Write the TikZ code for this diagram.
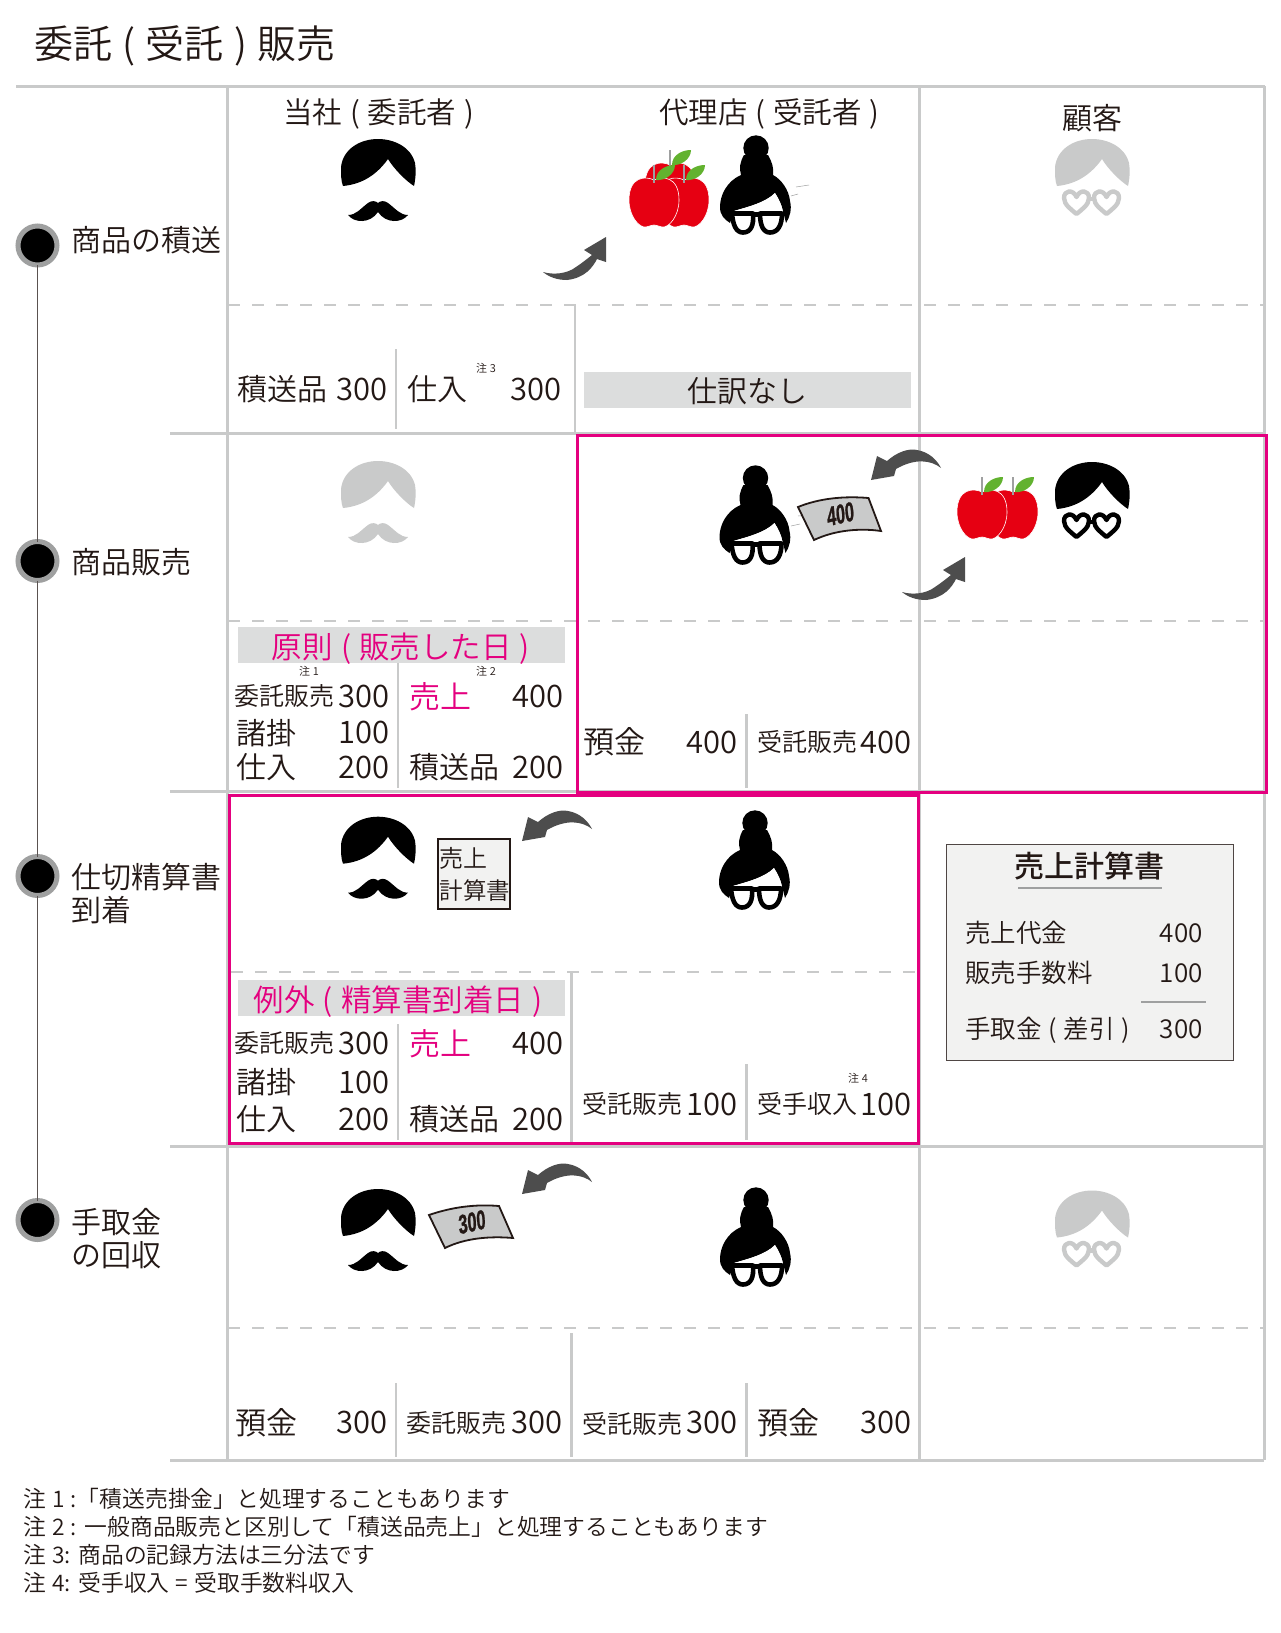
\documentclass[tikz,border=0pt]{standalone}
\usepackage{fontspec}
\IfFontExistsTF{Noto Sans CJK JP DemiLight}{\setmainfont{Noto Sans CJK JP DemiLight}[BoldFont={Noto Sans CJK JP Medium},WordSpace=1.2]}{\setmainfont{Noto Sans CJK JP Light}[BoldFont={Noto Sans CJK JP Medium},WordSpace=1.2]}
\newfontfamily\moneyfont[BoldFeatures={FakeBold=1.4}]{Liberation Sans}
\definecolor{ink}{HTML}{231815}
\definecolor{rulegrey}{HTML}{C9CACA}
\definecolor{bandgrey}{HTML}{DCDDDD}
\definecolor{pinkline}{HTML}{E4007F}
\definecolor{arrowgrey}{HTML}{4D4D4D}
\definecolor{paper}{HTML}{F2F2F1}
\definecolor{ringgrey}{HTML}{9FA0A0}
\definecolor{applered}{HTML}{E60012}
\definecolor{leafgreen}{HTML}{62B22F}
\tikzset{
  labl/.style={font=\fontsize{#1}{#1}\selectfont,anchor=base west,inner sep=0pt,text=ink},
  labr/.style={font=\fontsize{#1}{#1}\selectfont,anchor=base east,inner sep=0pt,text=ink},
  labc/.style={font=\fontsize{#1}{#1}\selectfont,anchor=base,inner sep=0pt,text=ink},
  gridline/.style={draw=rulegrey,line width=3pt},
  subline/.style={draw=rulegrey,line width=2.6pt},
  dashline/.style={draw=rulegrey,line width=2.2pt,dash pattern=on 12pt off 12pt},
  pinkbox/.style={draw=pinkline,line width=3pt},
  band/.style={fill=bandgrey},
  stepdot/.style={circle,fill=black,draw=ringgrey,line width=5pt,minimum size=39pt,inner sep=0pt,outer sep=0pt},
  timeline/.style={draw=ink!75,line width=1pt},
  wisp/.style={draw=ringgrey,line width=.5pt},
  hair/.pic={\fill[#1] (-35,47) .. controls (-14,45) and (0,34) .. (10,20) .. controls (16,30) and (28,42) .. (36,47) .. controls (38,38) and (38,30) .. (37,24) .. controls (33,8) and (16,0) .. (0,0) .. controls (-18,0) and (-35,10) .. (-37,28) .. controls (-37,36) and (-37,42) .. (-35,47) -- cycle;},
  man/.pic={
    \pic at (0,0) {hair=#1};
    \fill[#1] (-30,76) .. controls (-22,76) and (-18,70) .. (-10,64) .. controls (-6,61) and (-2,62) .. (0,64) .. controls (2,62) and (6,61) .. (10,64) .. controls (18,70) and (22,76) .. (30,76) .. controls (24,84) and (8,85) .. (0,73) .. controls (-8,85) and (-24,84) .. (-30,76) -- cycle;},
  client/.pic={
    \pic at (0,0) {hair=#1};
    \begin{scope}[draw=#1,line width=4.4pt,fill=white,line join=round]
      \draw (-15.5,58) .. controls (-12,50) and (-3,51) .. (-3,59) .. controls (-3,66) and (-11,71) .. (-15.5,75) .. controls (-20,71) and (-28,66) .. (-28,59) .. controls (-28,51) and (-19,50) .. (-15.5,58) -- cycle;
      \draw (14.5,58) .. controls (18,50) and (27,51) .. (27,59) .. controls (27,66) and (19,71) .. (14.5,75) .. controls (10,71) and (2,66) .. (2,59) .. controls (2,51) and (11,50) .. (14.5,58) -- cycle;
      \draw (-3,60) -- (2,60);
    \end{scope}},
  lady/.pic={
    \fill[black] (-1,13) circle[radius=12.7];
    \fill[black] (-13,20) -- (11,20) .. controls (15,27) and (17,33) .. (16,40) .. controls (24,44) and (32,55) .. (33,66) .. controls (35,74) and (33,82) .. (29,88) -- (26,76) .. controls (25,70) and (22,64) .. (18,58) .. controls (8,68) and (-10,72) .. (-23,76) -- (-27,88) .. controls (-33,84) and (-37,80) .. (-37,72) .. controls (-37,60) and (-30,46) .. (-16,40) .. controls (-18,33) and (-17,27) .. (-13,20) -- cycle;
    \fill[white] (-23,76) .. controls (-10,72) and (8,68) .. (18,58) .. controls (22,64) and (25,72) .. (26,78) -- (-24,80) -- cycle;
    \begin{scope}[draw=black,line width=4.6pt,fill=white,line join=round]
      \draw (-25,78.5) -- (-4,78.5) .. controls (-3,90) and (-6,97.5) .. (-14,97.5) .. controls (-21,97.5) and (-24,90) .. (-25,78.5) -- cycle;
      \draw (3,78.5) -- (25,78.5) .. controls (25,90) and (21,97.5) .. (13,97.5) .. controls (6,97.5) and (3,90) .. (3,78.5) -- cycle;
      \draw (-4,79.5) -- (3,79.5);
    \end{scope}},
  apple/.pic={
    \fill[applered,draw=white,line width=.6pt] (0,2) .. controls (-8,-2) and (-25,-2) .. (-25,22) .. controls (-25,38) and (-15,50) .. (-8,49) .. controls (-4,48) and (-2,47) .. (0,47) .. controls (2,47) and (4,48) .. (8,49) .. controls (15,50) and (25,38) .. (25,22) .. controls (25,-2) and (8,-2) .. (0,2) -- cycle;
    \draw[ringgrey,line width=2pt] (0,-13) -- (0,5);
    \fill[leafgreen] (2,2) .. controls (2,-8) and (12,-13) .. (21,-13) .. controls (21,-4) and (11,3) .. (2,2) -- cycle;},
  swoopup/.pic={\fill[arrowgrey] (0,0) .. controls (10,3) and (24,2) .. (33,-5) .. controls (39,-9) and (44,-13) .. (49,-17) -- (41,-22) -- (63,-35) -- (63,-10) -- (54,-13) .. controls (50,-5) and (42,6) .. (24,8) .. controls (14,8) and (6,5) .. (0,0) -- cycle;},
  swoopback/.pic={\fill[arrowgrey] (0,0) -- (6,-24) -- (16,-19) .. controls (26,-28) and (38,-32) .. (46,-30) .. controls (58,-28) and (66,-20) .. (70,-12) .. controls (60,-20) and (44,-22) .. (25,-11) -- (23,-4) -- cycle;},
}
\begin{document}
\begin{tikzpicture}[x=1pt,y=-1pt]
\useasboundingbox (0,0) rectangle (1280,1633);
\fill[white] (0,0) rectangle (1280,1633);
% grid
\path[gridline] (16,86) -- (1265,86);
\path[gridline] (170,433) -- (1264,433);
\path[gridline] (170,791) -- (1264,791);
\path[gridline] (170,1146) -- (1264,1146);
\path[gridline] (170,1460) -- (1264,1460);
\path[gridline] (227,86) -- (227,1460);
\path[gridline] (919.5,86) -- (919.5,1460);
\path[gridline] (1264.5,86) -- (1264.5,1460);
\path[dashline] (228,305) -- (1264,305);
\path[dashline] (228,621) -- (1264,621);
\path[dashline] (231,972) -- (918,972);
\path[dashline] (228,1328) -- (1264,1328);
% sub lines
\path[subline] (575,305) -- (575,433);
\path[subline] (396,349) -- (396,429);
\path[subline] (398,663) -- (398,788);
\path[subline] (746.5,714) -- (746.5,788);
\path[subline] (398,1024) -- (398,1140);
\path[subline] (571.5,972) -- (571.5,1142);
\path[subline] (746.5,1064) -- (746.5,1140);
\path[subline] (396,1383) -- (396,1457);
\path[subline] (571.5,1333) -- (571.5,1457);
\path[subline] (746.5,1383) -- (746.5,1457);
% pink boxes
\path[pinkbox] (577,435) rectangle (1266,792);
\path[pinkbox] (229,795) rectangle (918,1143);
% bands
\path[band] (584,372) rectangle (911,408);
\path[band] (238,627) rectangle (565,663);
\path[band] (238,980) rectangle (565,1016);
% timeline
\node[stepdot] (s1) at (37.5,245.5) {};
\node[stepdot] (s2) at (37.5,561) {};
\node[stepdot] (s3) at (37.5,876) {};
\node[stepdot] (s4) at (37.5,1220) {};
\path[timeline] (s1) -- (s2);
\path[timeline] (s2) -- (s3);
\path[timeline] (s3) -- (s4);
% title and headers
\node[labl=39] (title) at (34,58) {委託 ( 受託 ) 販売};
\node[labl=29.5] (h1) at (283,123.5) {当社 ( 委託者 )};
\node[labl=29.5] (h2) at (659,123.5) {代理店 ( 受託者 )};
\node[labc=30] (h3) at (1092,129.5) {顧客};
% step labels
\node[labl=30] (l1) at (71,251.5) {商品の積送};
\node[labl=30] (l2) at (71,573.5) {商品販売};
\node[labl=30] (l3a) at (71,888) {仕切精算書};
\node[labl=30] (l3b) at (71,921.5) {到着};
\node[labl=30] (l4a) at (71,1233) {手取金};
\node[labl=30] (l4b) at (71,1266) {の回収};
% row 1 figures
\pic at (378,139) {man=black};
\pic at (670,163) {apple};
\pic at (684,178) {apple};
\pic at (654,178) {apple};
\pic at (757,135) {lady};
\path[wisp] (796,187) -- (809,185) (791,196) -- (798,194);
\pic at (1092,139) {client=rulegrey};
\pic at (543,272) {swoopup};
% row 1 entries
\node[labl=30] (a1) at (237,400.5) {積送品};
\node[labr=31] (a2) at (388,400.5) {300};
\node[labl=30] (a3) at (407,400.5) {仕入};
\node[labc=11] (a4) at (486,372.5) {注 3};
\node[labr=31] (a5) at (562,400.5) {300};
\node[labc=30] (a6) at (747,402) {仕訳なし};
% row 2 figures
\pic at (378,461) {man=rulegrey};
\pic at (756.5,465) {lady};
\path[wisp] (798,516) -- (809,515) (791,526) -- (800,524);
\path[fill=rulegrey,draw=ink,line width=1.8pt] (798,507) .. controls (820,498) and (845,496) .. (868.5,498) -- (881,531) .. controls (860,528) and (835,530) .. (814,540) -- cycle;
\node[font=\moneyfont\bfseries\fontsize{27}{27}\selectfont,xscale=.6,rotate=8,inner sep=0pt,text=ink] (m1) at (840.5,514) {400};
\pic at (1013,490) {apple};
\pic at (982,490) {apple};
\pic at (1092,462) {client=black};
\pic at (871,480) {swoopback};
\pic at (902,592) {swoopup};
% row 2 entries
\node[labc=30.5,text=pinkline] (b0) at (401,658) {原則 ( 販売した日 )};
\node[labc=11] (b1) at (309,675) {注 1};
\node[labc=11] (b2) at (486,675) {注 2};
\node[labl=25] (b3) at (234.5,705) {委託販売};
\node[labr=31] (b4) at (390,707) {300};
\node[labl=31] (b5) at (409,708) {\textcolor{pinkline}{売上}};
\node[labr=31] (b6) at (564,707) {400};
\node[labl=30] (b7) at (236,744) {諸掛};
\node[labr=31] (b8) at (390,743) {100};
\node[labl=30] (b9) at (236,778) {仕入};
\node[labr=31] (b10) at (390,778) {200};
\node[labl=30] (b11) at (409,778) {積送品};
\node[labr=31] (b12) at (564,778) {200};
\node[labl=31] (b13) at (583,753) {預金};
\node[labr=31] (b14) at (738,753) {400};
\node[labl=25] (b15) at (757,751.5) {受託販売};
\node[labr=31] (b16) at (912,753) {400};
% row 3 figures
\pic at (378,816.7) {man=black};
\node[draw=ink,line width=1.5pt,fill=paper,minimum width=72pt,minimum height=70pt,inner sep=0pt] (doc) at (474,874) {};
\node[labl=24] (d1) at (439,867) {売上};
\node[labl=23.5] (d2) at (439.5,899) {計算書};
\pic at (522,841) {swoopback};
\pic at (756,810) {lady};
\node[draw=ink!80,line width=1pt,fill=paper,minimum width=287pt,minimum height=216pt,inner sep=0pt] (stmt) at (1089.5,952) {};
\node[labc=30,font=\bfseries\fontsize{30}{30}\selectfont] (c0) at (1089,877.5) {売上計算書};
\path[draw=ringgrey,line width=1.4pt] (1018,888) -- (1162,888);
\node[labl=25.5] (c1) at (965,942.5) {売上代金};
\node[labr=26] (c2) at (1203,942) {400};
\node[labl=25.5] (c3) at (965,982.5) {販売手数料};
\node[labr=26] (c4) at (1203,982) {100};
\path[draw=ringgrey,line width=1.4pt] (1141,1002) -- (1206,1002);
\node[labl=25.5] (c5) at (965,1038.5) {手取金 ( 差引 )};
\node[labr=26] (c6) at (1203,1038) {300};
% row 3 entries
\node[labc=30.5,text=pinkline] (e0) at (398,1011) {例外 ( 精算書到着日 )};
\node[labl=25] (e1) at (234.5,1052.5) {委託販売};
\node[labr=31] (e2) at (390,1054) {300};
\node[labl=31] (e3) at (409,1055) {\textcolor{pinkline}{売上}};
\node[labr=31] (e4) at (564,1054) {400};
\node[labl=30] (e5) at (236,1093) {諸掛};
\node[labr=31] (e6) at (390,1093) {100};
\node[labl=30] (e7) at (236,1130) {仕入};
\node[labr=31] (e8) at (390,1130) {200};
\node[labl=30] (e9) at (409,1130) {積送品};
\node[labr=31] (e10) at (564,1130) {200};
\node[labl=25] (e11) at (582,1113) {受託販売};
\node[labr=31] (e12) at (738,1115) {100};
\node[labl=25] (e13) at (757,1113) {受手収入};
\node[labc=11] (e14) at (858,1082) {注 4};
\node[labr=31] (e15) at (912,1115) {100};
% row 4 figures
\pic at (378,1189) {man=black};
\path[fill=rulegrey,draw=ink,line width=1.8pt] (429,1215) .. controls (452,1207) and (476,1204) .. (499,1206) -- (513,1238) .. controls (490,1236) and (465,1238) .. (445,1248) -- cycle;
\node[font=\moneyfont\bfseries\fontsize{27}{27}\selectfont,xscale=.6,rotate=8,inner sep=0pt,text=ink] (m2) at (472,1222) {300};
\pic at (522,1194) {swoopback};
\pic at (757,1187) {lady};
\pic at (1092,1190.5) {client=rulegrey};
% row 4 entries
\node[labl=31] (f1) at (235,1434.5) {預金};
\node[labr=31] (f2) at (388,1433) {300};
\node[labl=25] (f3) at (406,1432) {委託販売};
\node[labr=31] (f4) at (563,1433) {300};
\node[labl=25] (f5) at (582,1433) {受託販売};
\node[labr=31] (f6) at (738,1433) {300};
\node[labl=31] (f7) at (757,1434.5) {預金};
\node[labr=31] (f8) at (912,1433) {300};
% notes
\node[labl=22.8] (n1) at (23,1507) {注 1 :「積送売掛金」と処理することもあります};
\node[labl=22.8] (n2) at (23,1535) {注 2 : 一般商品販売と区別して「積送品売上」と処理することもあります};
\node[labl=22.8] (n3) at (23,1563) {注 3: 商品の記録方法は三分法です};
\node[labl=22.8] (n4) at (23,1591) {注 4: 受手収入 = 受取手数料収入};
\end{tikzpicture}
\end{document}
